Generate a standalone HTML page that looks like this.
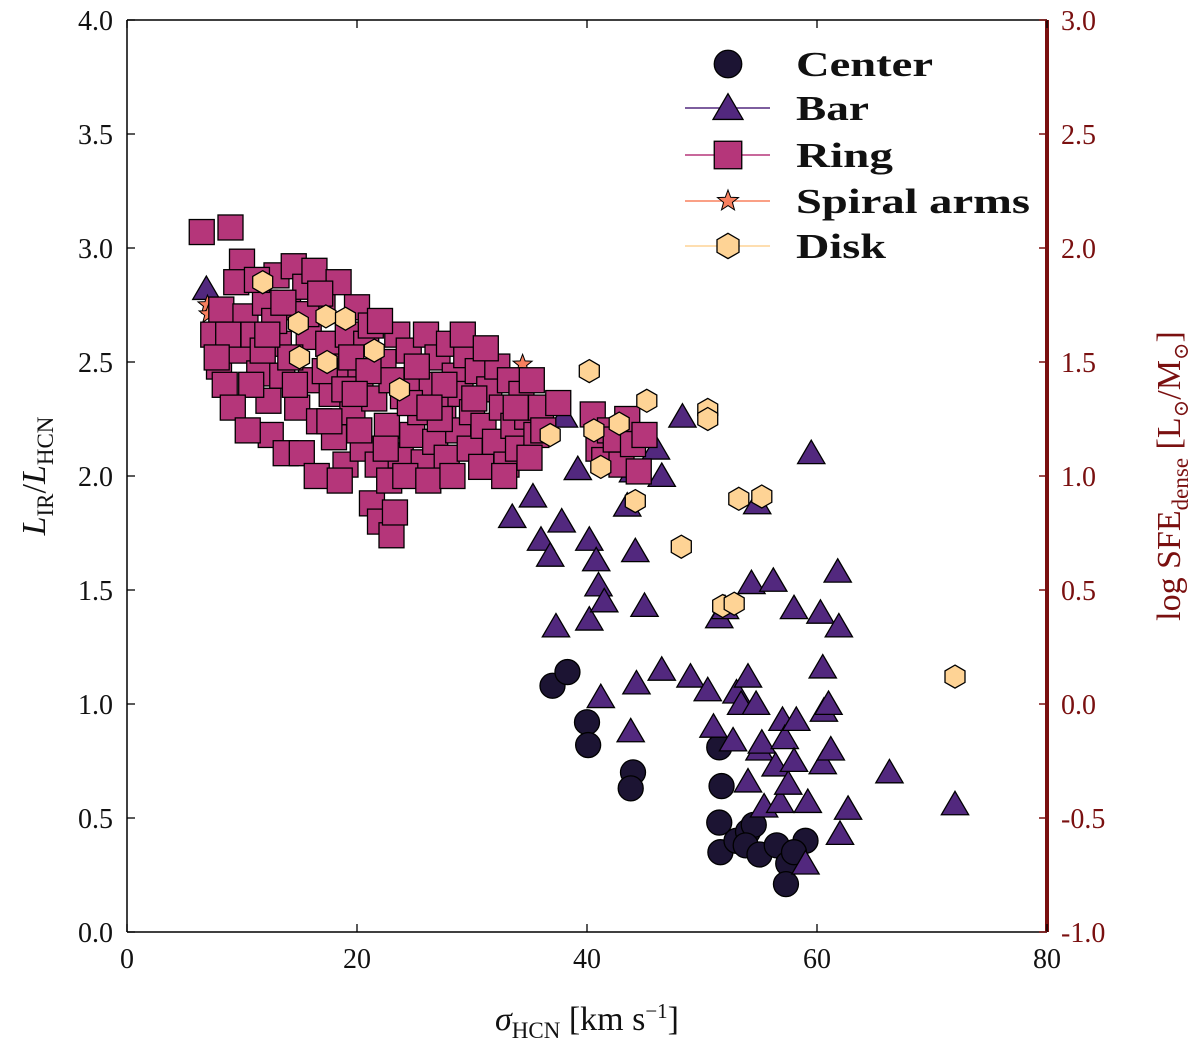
<!DOCTYPE html>
<html><head><meta charset="utf-8"><style>
html,body{margin:0;padding:0;background:#fff;}
svg text{font-family:"Liberation Serif","DejaVu Serif",serif;}
</style></head><body>
<svg id="chart" width="1200" height="1049" xmlns="http://www.w3.org/2000/svg"></svg>
<script>
const xTicks=[0,20,40,60,80];
const yTicks=[0.0,0.5,1.0,1.5,2.0,2.5,3.0,3.5,4.0];
const y2Ticks=["-1.0","-0.5","0.0","0.5","1.0","1.5","2.0","2.5","3.0"];
const centerX=[37,38.3,40,40.1,44,43.8,51.5,51.7,51.5,51.6,53,54,54.5,53.8,55,56.5,57.5,57.3,59,58];
const centerY=[1.08,1.14,0.92,0.82,0.70,0.63,0.81,0.64,0.48,0.35,0.40,0.44,0.47,0.38,0.34,0.38,0.30,0.21,0.40,0.35];
const barX=[6.9,33.5,35.3,36,36.8,37.8,37.3,38,39.2,40.2,40.8,41,40.2,41.2,41.5,43.5,44.2,44,46,46.5,45,44.3,46.5,43.8,48.3,49,50.5,51,51.5,52,52.7,53,53.4,54,54.3,54.8,54.7,55,55.2,54,55.4,56.2,56.4,56.8,57,57.2,57.5,58,58,58.2,59.5,59,59.2,60.3,60.5,60.6,60.5,61,61.2,61.8,61.9,62,62.7,66.3,72];
const barY=[2.82,1.82,1.91,1.72,1.65,1.80,1.34,2.26,2.03,1.72,1.63,1.52,1.37,1.03,1.45,1.87,1.67,2.02,2.12,2.00,1.43,1.09,1.15,0.88,2.26,1.12,1.06,0.90,1.38,1.42,0.84,1.05,1.00,1.12,1.53,1.88,1.00,0.80,0.83,0.66,0.55,1.54,0.73,0.57,0.93,0.85,0.65,0.75,1.42,0.93,2.10,0.30,0.57,1.40,1.16,0.97,0.74,1.00,0.80,1.58,1.34,0.43,0.54,0.70,0.56];
const spiralX=[7,7.1,34.4,18.5];
const spiralY=[2.75,2.71,2.49,2.02];
const ringX=[6.5,9,10,9.5,8.2,7.5,8,8.5,9.7,10.3,11,11.5,12,12.3,13,13.2,13.5,14,14.5,14.8,15.5,15.8,16,16.3,16.7,17,17.5,17.8,18,18.4,18.7,19,19.2,19.6,20,20.3,20.5,20.8,21.2,21.5,21.3,21.8,22,22.3,22.6,22.8,23,23.3,23.5,23.8,24,24.5,24.8,25,25.5,25.8,26,26.5,26.8,27,27.5,27.8,28,28.5,28.8,29,29.5,29.8,30,30.5,30.8,31,31.5,32,32.2,32.6,33,33.3,33.6,34,34.3,34.8,35.2,35.6,36,37.5,40.5,41,41.5,42,42.5,43,43.5,44,44.5,45,10.8,12.5,13.8,15.2,16.5,18.5,11.3,12.8,14.2,15.6,17.2,18.9,20.2,9.2,8.8,7.8,10.5,25.2,27.2,29.2,31.2,23,22,24.2,26.2,19.5,16.8,13.6,11.8,28.3,32.8,35,12.2,14.6,17.6,21,24.6,27.6,30.2,33.8,36.2,19.8,22.5,26.3];
const ringY=[3.07,3.09,2.94,2.85,2.73,2.62,2.48,2.40,2.55,2.70,2.62,2.45,2.76,2.33,2.88,2.58,2.44,2.74,2.92,2.30,2.83,2.61,2.42,2.90,2.24,2.77,2.58,2.36,2.17,2.85,2.48,2.05,2.62,2.28,2.74,2.43,2.12,2.58,2.66,2.34,1.88,2.05,1.80,2.50,2.22,1.98,1.74,1.84,2.62,2.09,2.35,2.55,2.18,2.42,2.28,2.06,2.62,2.40,2.15,2.52,2.30,2.08,2.58,2.44,2.20,2.36,2.53,2.12,2.28,2.46,2.04,2.22,2.38,2.15,2.48,2.30,2.05,2.42,2.22,2.12,2.36,2.26,2.42,2.18,2.30,2.32,2.27,2.12,2.07,2.20,2.16,2.05,2.25,2.14,2.02,2.18,2.40,2.18,2.10,2.10,2.00,1.98,2.86,2.68,2.52,2.71,2.46,2.38,2.20,2.30,2.62,2.52,2.20,2.48,2.25,2.62,2.56,2.42,2.68,2.00,1.98,2.52,2.80,2.76,2.55,2.00,2.00,2.08,2.62,2.40,2.24,2.46,2.32,2.40,2.34,2.30,2.20,2.36,2.12,2.30];
const diskX=[11.8,14.9,15,17.3,17.4,19,21.5,23.7,36.8,40.2,40.6,41.2,42.8,44.2,45.2,48.2,50.5,50.5,53.2,55.2,51.8,52.8,72];
const diskY=[2.85,2.67,2.52,2.70,2.50,2.69,2.55,2.38,2.18,2.46,2.20,2.04,2.23,1.89,2.33,1.69,2.29,2.25,1.90,1.91,1.43,1.44,1.12];

const L=127,R=1047,T=20,B=932;
const sx=v=>L+(v-0)/80*(R-L);
const sy=v=>B-(v-0)/4*(B-T);
const svg=document.getElementById('chart');
const NS='http://www.w3.org/2000/svg';
function mk(tag,attrs,parent){const e=document.createElementNS(NS,tag);for(const k in attrs)e.setAttribute(k,attrs[k]);(parent||svg).appendChild(e);return e;}
const C={center:'#1c1433',bar:'#52287e',ring:'#b5367a',spiral:'#f8805f',disk:'#fed395'};
function marker(type,cx,cy,g,s){s=s||1;let e;
 if(type==='center'){e=mk('circle',{cx,cy,r:12.5*s,fill:C.center,stroke:'#000','stroke-width':1.3},g);}
 else if(type==='bar'){const h=13*s;e=mk('polygon',{points:`${cx},${cy-h} ${cx+h*1.05},${cy+h*0.8} ${cx-h*1.05},${cy+h*0.8}`,fill:C.bar,stroke:'#000','stroke-width':1.3},g);}
 else if(type==='ring'){const h=12.5*s;e=mk('rect',{x:cx-h,y:cy-h,width:2*h,height:2*h,fill:C.ring,stroke:'#000','stroke-width':1.3},g);}
 else if(type==='spiral'){const ro=10*s,ri=4.2*s;let p=[];for(let i=0;i<10;i++){const a=-Math.PI/2+i*Math.PI/5,r=i%2?ri:ro;p.push((cx+r*Math.cos(a)).toFixed(1)+','+(cy+r*Math.sin(a)).toFixed(1));}e=mk('polygon',{points:p.join(' '),fill:C.spiral,stroke:'#000','stroke-width':1},g);}
 else {const r=11.5*s;let p=[];for(let i=0;i<6;i++){const a=-Math.PI/2+i*Math.PI/3;p.push((cx+r*Math.cos(a)).toFixed(1)+','+(cy+r*Math.sin(a)).toFixed(1));}e=mk('polygon',{points:p.join(' '),fill:C.disk,stroke:'#000','stroke-width':1.3},g);}
 return e;}
function series(type,xs,ys){const g=mk('g',{});
 
 
 xs.forEach((x,i)=>{const m=marker(type,sx(x),sy(ys[i]),g);
  
  });}
series('center',centerX,centerY);
series('bar',barX,barY);
series('spiral',spiralX,spiralY);
series('ring',ringX,ringY);
series('disk',diskX,diskY);

const frame=mk('g',{});


mk('line',{x1:L,y1:T,x2:R,y2:T,stroke:'#000','stroke-width':1.5},frame);
mk('line',{x1:L,y1:B,x2:R,y2:B,stroke:'#000','stroke-width':1.5},frame);
mk('line',{x1:L,y1:T,x2:L,y2:B,stroke:'#000','stroke-width':1.5},frame);
mk('line',{x1:R,y1:T,x2:R,y2:B,stroke:'#7a1010','stroke-width':4},frame);
xTicks.forEach(v=>{const x=sx(v);
 mk('line',{x1:x,y1:B,x2:x,y2:B-8,stroke:'#000','stroke-width':1.3},frame);
 mk('line',{x1:x,y1:T,x2:x,y2:T+8,stroke:'#000','stroke-width':1.3},frame);
 const t=mk('text',{x:x,y:B+36,'text-anchor':'middle','font-size':28,fill:'#111'});t.textContent=v;
 
 });
yTicks.forEach((v,i)=>{const y=sy(v);
 mk('line',{x1:L,y1:y,x2:L+8,y2:y,stroke:'#000','stroke-width':1.3},frame);
 mk('line',{x1:R,y1:y,x2:R-8,y2:y,stroke:'#7a1010','stroke-width':1.5},frame);
 const t=mk('text',{x:L-14,y:y+10,'text-anchor':'end','font-size':28,fill:'#111'});t.textContent=v.toFixed(1);
 
 
 const t2=mk('text',{x:R+14,y:y+10,'text-anchor':'start','font-size':28,fill:'#7a1010'});t2.textContent=y2Ticks[i];
 
 });

const xt=mk('text',{x:587,y:1030,'text-anchor':'middle','font-size':34,fill:'#111'});
xt.innerHTML='<tspan font-style="italic">σ</tspan><tspan font-size="23" dy="8">HCN</tspan><tspan dy="-8"> [km s</tspan><tspan font-size="21" dy="-12">−1</tspan><tspan dy="12">]</tspan>';


const yt=mk('text',{transform:'translate(45,476) rotate(-90)','text-anchor':'middle','font-size':34,fill:'#111'});
yt.innerHTML='<tspan font-style="italic">L</tspan><tspan font-size="23" dy="8">IR</tspan><tspan dy="-8">/</tspan><tspan font-style="italic">L</tspan><tspan font-size="23" dy="8">HCN</tspan>';


const y2t=mk('text',{transform:'translate(1180,476) rotate(-90)','text-anchor':'middle','font-size':34,fill:'#7a1010'});
y2t.innerHTML='log SFE<tspan font-size="23" dy="8">dense</tspan><tspan dy="-8"> [L</tspan><tspan font-size="21" dy="8">⊙</tspan><tspan dy="-8">/M</tspan><tspan font-size="21" dy="8">⊙</tspan><tspan dy="-8">]</tspan>';



const legNames=['Center','Bar','Ring','Spiral arms','Disk'];
const legTypes=['center','bar','ring','spiral','disk'];
const legW=[137,73,97,234,90];
const legY=[64,108,155,201,246];
const lg=mk('g',{});


legTypes.forEach((t,i)=>{const e=mk('g',{},lg);
 
 
 if(t!=='center') mk('line',{x1:685,y1:legY[i],x2:770,y2:legY[i],stroke:C[t],'stroke-width':1.5},e);
 marker(t,728,legY[i],e,t==='spiral'?1.1:1.1);
 const tx=mk('text',{x:796,y:legY[i]+12,'font-size':35,'font-weight':'bold',fill:'#111',textLength:legW[i],lengthAdjust:'spacingAndGlyphs'},e);tx.textContent=legNames[i];});
</script>
</body></html>
